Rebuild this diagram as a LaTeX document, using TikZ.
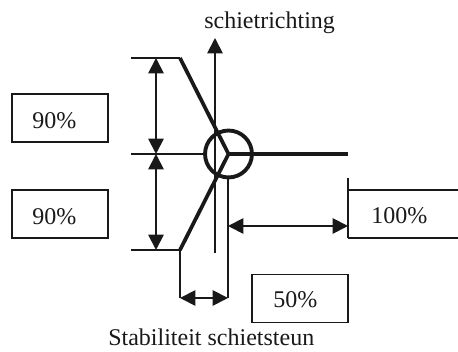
\documentclass[tikz,border=0pt]{standalone}
\usepackage{fontspec}
\setmainfont{Liberation Serif}
\usetikzlibrary{arrows.meta}
\tikzset{
  x=0.75pt,y=-0.75pt,
  thinl/.style={line width=1.4pt,draw=black!90},
  thickl/.style={line width=2.8pt,draw=black!90},
  heavyl/.style={line width=3.1pt,draw=black!90},
  dbl/.style={thinl,{Triangle[length=11.5pt,width=11.5pt]}-{Triangle[length=11.5pt,width=11.5pt]}},
  upa/.style={thinl,-{Triangle[length=11.5pt,width=11.5pt]}},
  pctbox/.style={draw=black!90,line width=1.4pt,minimum width=72pt,minimum height=36pt,inner sep=0pt},
  lbl/.style={inner sep=0pt,anchor=base west,font=\fontsize{18}{20}\selectfont,text=black!90}
}
\begin{document}
\begin{tikzpicture}
\useasboundingbox (0,0) rectangle (458,352);
% points
\coordinate (tl) at (131,58);
\coordinate (tk) at (180,58);
\coordinate (ml) at (131,154);
\coordinate (c) at (228.5,154);
\coordinate (bl) at (131,250);
\coordinate (bk) at (180,250);
\coordinate (r) at (348,154);
\coordinate (at) at (156,58);
\coordinate (am) at (156,154);
\coordinate (ab) at (156,250);
\coordinate (sb) at (180,298);
\coordinate (st) at (228,178);
\coordinate (sd) at (228,298);
\coordinate (ha) at (228,226);
\coordinate (hb) at (348,226);
\coordinate (ot) at (348,178);
\coordinate (ob) at (348,238);
\coordinate (vt) at (215,38);
\coordinate (vb) at (215,253);
\coordinate (ct) at (348,190);
\coordinate (cr) at (458,190);
\coordinate (cs) at (458,238);
% circle
\node[draw=black!90,line width=2.9pt,circle,minimum size=35.2pt,inner sep=0pt] (hub) at (c) {};
% text boxes
\node[pctbox] (b1) at (60,118) {};
\node[pctbox] (b2) at (60,214) {};
\node[pctbox] (b3) at (300,298.5) {};
\node[lbl] (t1) at (32,129) {90\%};
\node[lbl] (t2) at (32,225) {90\%};
\node[lbl] (t3) at (273,308) {50\%};
\node[lbl] (p100) at (371,224) {100\%};
\node[lbl] (title) at (204,29) {schietrichting};
\node[lbl] (cap) at (108,346) {Stabiliteit schietsteun};
% lines
\draw[thinl] (tl) -- (tk);
\draw[thinl] (ml) -- (hub.west);
\draw[thinl] (bl) -- (bk);
\draw[thickl] (tk) -- (c) -- (bk);
\draw[heavyl] (c) -- (r);
\draw[upa] (vb) -- (vt);
\draw[dbl] (at) -- (am);
\draw[dbl] (am) -- (ab);
\draw[thinl] (bk) -- (sb);
\draw[thinl] (st) -- (sd);
\draw[dbl] (sb) -- (sd);
\draw[dbl] (ha) -- (hb);
\draw[thinl] (ot) -- (ob);
\draw[thinl] (ct) -- (cr);
\draw[thinl] (ob) -- (cs);
\end{tikzpicture}
\end{document}
